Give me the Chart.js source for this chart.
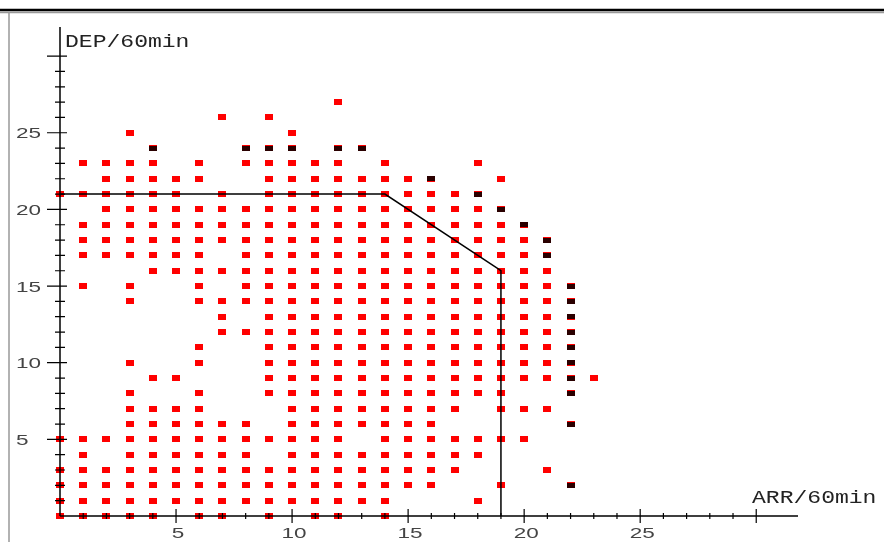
<!DOCTYPE html>
<html>
<head>
<meta charset="utf-8">
<script src="https://cdn.jsdelivr.net/npm/chart.js@4"></script>
<style>
html,body{margin:0;padding:0;background:#fff;}
</style>
</head>
<body>
<canvas id="myChart" width="884" height="542"></canvas>
<script>
// valores DEP (eje y) y ARR (eje x) presentes en cada fila
const filasDep = [27, 26, 25, 24, 23, 22, 21, 20, 19, 18, 17, 16, 15, 14, 13, 12, 11, 10, 9, 8, 7, 6, 5, 4, 3, 2, 1, 0];
const filasArr = [
    [12],
    [7, 9],
    [3, 10],
    [4, 8, 9, 10, 12, 13],
    [1, 2, 3, 4, 6, 8, 9, 10, 11, 12, 14, 18],
    [2, 3, 4, 5, 6, 9, 10, 11, 12, 13, 14, 15, 16, 19],
    [0, 1, 2, 3, 4, 5, 7, 9, 10, 11, 12, 13, 14, 15, 16, 17, 18],
    [2, 3, 4, 5, 6, 7, 8, 9, 10, 11, 12, 13, 14, 15, 16, 17, 18, 19],
    [1, 2, 3, 4, 5, 6, 7, 8, 9, 10, 11, 12, 13, 14, 15, 16, 17, 18, 19, 20],
    [1, 2, 3, 4, 5, 6, 7, 8, 9, 10, 11, 12, 13, 14, 15, 16, 17, 18, 19, 20, 21],
    [1, 2, 3, 4, 5, 6, 8, 9, 10, 11, 12, 13, 14, 15, 16, 17, 18, 19, 20, 21],
    [4, 5, 6, 7, 8, 9, 10, 11, 12, 13, 14, 15, 16, 17, 18, 19, 20, 21],
    [1, 3, 6, 8, 9, 10, 11, 12, 13, 14, 15, 16, 17, 18, 19, 20, 21, 22],
    [3, 6, 7, 8, 9, 10, 11, 12, 13, 14, 15, 16, 17, 18, 19, 20, 21, 22],
    [7, 9, 10, 11, 12, 13, 14, 15, 16, 17, 18, 19, 20, 21, 22],
    [7, 8, 9, 10, 11, 12, 13, 14, 15, 16, 17, 18, 19, 20, 21, 22],
    [6, 9, 10, 11, 12, 13, 14, 15, 16, 17, 18, 19, 20, 21, 22],
    [3, 6, 9, 10, 11, 12, 13, 14, 15, 16, 17, 18, 19, 20, 21, 22],
    [4, 5, 9, 10, 11, 12, 13, 14, 15, 16, 17, 18, 19, 20, 21, 22, 23],
    [3, 6, 9, 10, 11, 12, 13, 14, 15, 16, 17, 18, 19, 22],
    [3, 4, 5, 6, 10, 11, 12, 13, 14, 15, 16, 17, 19, 20, 21],
    [3, 4, 5, 6, 7, 8, 10, 11, 12, 13, 14, 15, 16, 22],
    [0, 1, 2, 3, 4, 5, 6, 7, 8, 9, 10, 11, 12, 14, 15, 16, 17, 18, 19, 20],
    [1, 3, 4, 5, 6, 7, 8, 10, 11, 12, 13, 14, 15, 16, 17, 18],
    [0, 1, 2, 3, 4, 5, 6, 7, 8, 9, 10, 11, 12, 13, 14, 15, 16, 17, 21],
    [0, 1, 2, 3, 4, 5, 6, 7, 8, 9, 10, 11, 12, 13, 14, 15, 16, 19, 22],
    [0, 1, 2, 3, 4, 5, 6, 7, 8, 9, 10, 11, 12, 13, 14, 18],
    [0, 1, 2, 3, 4, 6, 7, 9, 11, 12, 14]
];

// puntos del borde (se ven oscuros)
const bordeArr = [4, 8, 9, 10, 12, 13, 16, 18, 19, 20, 21, 21, 22, 22, 22, 22, 22, 22, 22, 22, 22, 22];
const bordeDep = [24, 24, 24, 24, 24, 24, 22, 21, 20, 19, 18, 17, 15, 14, 13, 12, 11, 10, 9, 8, 6, 2];

// linea de capacidad
const capArr = [0, 14, 19, 19];
const capDep = [21, 21, 16, 0];

// ejes
const ejeXmax = 31.8;
const ejeYmax = 31.9;
const marcasX = [5, 10, 15, 20, 25];
const marcasY = [5, 10, 15, 20, 25];
const etiquetasX = ["5", "10", "15", "20", "25"];
const etiquetasY = ["5", "10", "15", "20", "25"];
const tituloY = "DEP/60min";
const tituloX = "ARR/60min";

let puntos = [];
filasDep.forEach((dep, i) => {
    filasArr[i].forEach((arr) => puntos.push({x: arr, y: dep}));
});
const puntosBorde = bordeArr.map((a, i) => ({x: a, y: bordeDep[i]}));
const linea = capArr.map((a, i) => ({x: a, y: capDep[i]}));

function cajita(w, h, color){
    const c = document.createElement("canvas");
    c.width = w;
    c.height = h;
    const g = c.getContext("2d");
    g.fillStyle = color;
    g.fillRect(0, 0, w, h);
    return c;
}

function textoAncho(ctx, txt, x, y, escala, align){
    ctx.save();
    ctx.translate(x, y);
    ctx.scale(escala, 1);
    ctx.textAlign = align;
    ctx.fillText(txt, 0, 0);
    ctx.restore();
}

const ejes = {
    id: "ejes",
    beforeDraw(chart){
        const ctx = chart.ctx;
        ctx.save();
        ctx.fillStyle = "#fff";
        ctx.fillRect(0, 0, chart.width, chart.height);
        // marco
        ctx.strokeStyle = "#999";
        ctx.lineWidth = 1.5;
        ctx.beginPath();
        ctx.moveTo(9, 12);
        ctx.lineTo(9, chart.height);
        ctx.moveTo(0, 12.5);
        ctx.lineTo(chart.width, 12.5);
        ctx.stroke();
        ctx.strokeStyle = "#000";
        ctx.lineWidth = 2.5;
        ctx.beginPath();
        ctx.moveTo(0, 10);
        ctx.lineTo(chart.width, 10);
        ctx.stroke();
        ctx.restore();
    },
    afterDatasetsDraw(chart){
        const ctx = chart.ctx;
        const sx = chart.scales.x;
        const sy = chart.scales.y;
        const x0 = sx.getPixelForValue(0);
        const y0 = sy.getPixelForValue(0);
        ctx.save();
        ctx.strokeStyle = "#000";
        ctx.lineWidth = 1.5;
        ctx.beginPath();
        ctx.moveTo(x0, y0);
        ctx.lineTo(sx.getPixelForValue(ejeXmax), y0);
        ctx.moveTo(x0, y0);
        ctx.lineTo(x0, sy.getPixelForValue(ejeYmax));
        ctx.stroke();

        ctx.lineWidth = 1.2;
        ctx.beginPath();
        for (let v = 1; v <= 30; v++){
            const px = sx.getPixelForValue(v);
            const mayor = v % 5 == 0;
            ctx.moveTo(px, y0 - (mayor ? 7 : 3));
            ctx.lineTo(px, y0 + (mayor ? 7 : 3));
            const py = sy.getPixelForValue(v);
            ctx.moveTo(x0 - (mayor ? 13 : 5), py);
            ctx.lineTo(x0 + (mayor ? 7 : 5), py);
        }
        ctx.stroke();

        ctx.fillStyle = "#444";
        ctx.font = "15px 'Liberation Sans'";
        ctx.textBaseline = "alphabetic";
        marcasX.forEach((v, i) => {
            textoAncho(ctx, etiquetasX[i], sx.getPixelForValue(v) + 2, 538, 1.5, "center");
        });
        marcasY.forEach((v, i) => {
            textoAncho(ctx, etiquetasY[i], 16, sy.getPixelForValue(v) + 5.5, 1.5, "left");
        });

        ctx.fillStyle = "#222";
        ctx.font = "18px 'Liberation Mono'";
        textoAncho(ctx, tituloY, x0 + 5, 47, 1.28, "left");
        textoAncho(ctx, tituloX, 752, 503, 1.28, "left");
        ctx.restore();
    }
};

const chartDOM = document.getElementById("myChart");
const myChart = new Chart(chartDOM, {
    type: "scatter",
    data: {
        datasets: [
            {
                label: "capacidad",
                data: linea,
                showLine: true,
                borderColor: "#000",
                borderWidth: 1.5,
                pointRadius: 0,
                fill: false,
                clip: false
            },
            {
                label: "borde",
                data: puntosBorde,
                pointStyle: cajita(8, 5, "#2a0000"),
                clip: false
            },
            {
                label: "ARR/DEP",
                data: puntos,
                pointStyle: cajita(8, 6, "#ff0000"),
                clip: false
            }
        ]
    },
    options: {
        responsive: false,
        devicePixelRatio: 1,
        animation: false,
        layout: {padding: {left: 60, right: 86, top: 27, bottom: 26}},
        scales: {
            x: {type: "linear", min: 0, max: ejeXmax, display: false},
            y: {type: "linear", min: 0, max: ejeYmax, display: false}
        },
        plugins: {
            legend: {display: false},
            tooltip: {enabled: false}
        }
    },
    plugins: [ejes]
});
</script>
</body>
</html>
